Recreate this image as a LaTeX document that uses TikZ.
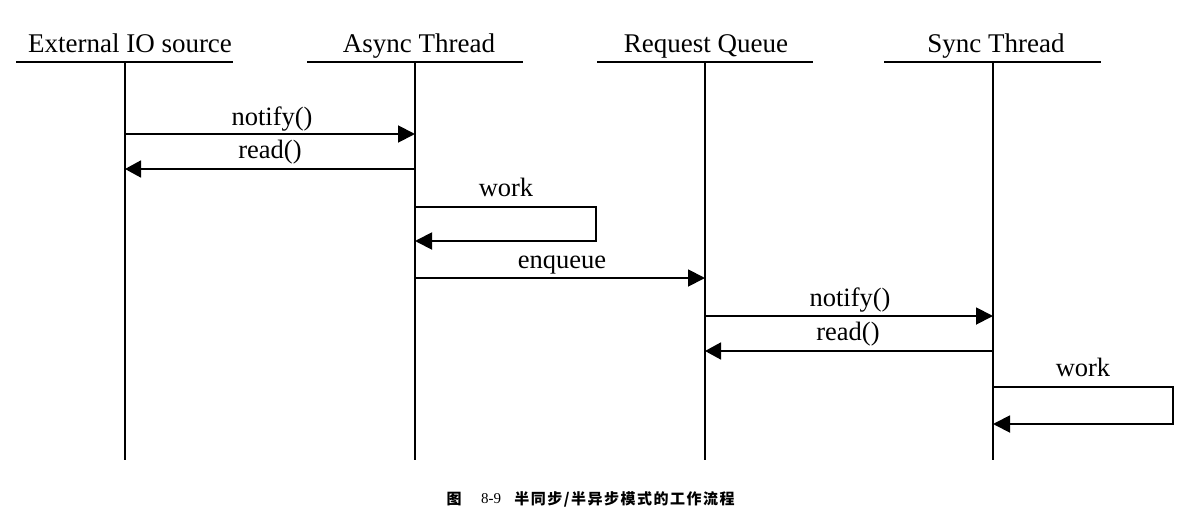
\documentclass[tikz,border=0pt]{standalone}
\usepackage{fontspec}
\setmainfont{Liberation Serif}
\newfontfamily\cjk{Noto Sans CJK SC}
\usetikzlibrary{arrows.meta}
\tikzset{
  hdr/.style={font=\fontsize{27}{30}\selectfont, anchor=base, inner sep=0pt},
  hline/.style={line width=2.6pt},
  life/.style={line width=1.8pt},
  msg/.style={line width=1.9pt, -{Triangle[length=17pt,width=17pt]}},
  ret/.style={line width=1.7pt, -{Triangle[length=16pt,width=17pt]}},
  lbl/.style={font=\fontsize{26.5}{30}\selectfont, anchor=base, inner sep=0pt},
  captxt/.style={font=\fontsize{15}{18}\selectfont, inner sep=0pt},
}
\begin{document}
\begin{tikzpicture}[x=1pt,y=-1pt]
\useasboundingbox (0,0) rectangle (1187,522);
% headers
\node[hdr] (hE) at (130,52) {External IO source};
\node[hdr] (hA) at (419,52) {Async Thread};
\node[hdr] (hR) at (706,52) {Request Queue};
\node[hdr] (hS) at (996,52) {Sync Thread};
\draw[hline] (16,62) coordinate (e0) -- (233,62) coordinate (e1);
\draw[hline] (307,62) coordinate (a0) -- (523,62) coordinate (a1);
\draw[hline] (597,62) coordinate (r0) -- (813,62) coordinate (r1);
\draw[hline] (884,62) coordinate (s0) -- (1101,62) coordinate (s1);
% lifelines
\coordinate (Et) at (125,62); \coordinate (Eb) at (125,460);
\coordinate (At) at (415,62); \coordinate (Ab) at (415,460);
\coordinate (Rt) at (705,62); \coordinate (Rb) at (705,460);
\coordinate (St) at (993,62); \coordinate (Sb) at (993,460);
\draw[life] (Et) -- (Eb);
\draw[life] (At) -- (Ab);
\draw[life] (Rt) -- (Rb);
\draw[life] (St) -- (Sb);
% message points
\coordinate (E1) at (125,134); \coordinate (A1) at (415,134);
\coordinate (E2) at (125,169); \coordinate (A2) at (415,169);
\coordinate (A3) at (415,207); \coordinate (W1) at (596,207);
\coordinate (W2) at (596,241); \coordinate (A4) at (415,241);
\coordinate (A5) at (415,278); \coordinate (R5) at (705,278);
\coordinate (R6) at (705,316); \coordinate (S6) at (993,316);
\coordinate (R7) at (705,351); \coordinate (S7) at (993,351);
\coordinate (S8) at (993,387); \coordinate (W3) at (1173,387);
\coordinate (W4) at (1173,424); \coordinate (S9) at (993,424);
% messages
\draw[msg] (E1) -- (A1);
\node[lbl] (l1) at (272,125) {notify()};
\draw[ret] (A2) -- (E2);
\node[lbl] (l2) at (270,158) {read()};
\draw[msg] (A3) -- (W1) -- (W2) -- (A4);
\node[lbl] (l3) at (506,196) {work};
\draw[msg] (A5) -- (R5);
\node[lbl] (l4) at (562,268) {enqueue};
\draw[msg] (R6) -- (S6);
\node[lbl] (l5) at (850,306) {notify()};
\draw[ret] (S7) -- (R7);
\node[lbl] (l6) at (848,340) {read()};
\draw[msg] (S8) -- (W3) -- (W4) -- (S9);
\node[lbl] (l7) at (1083,376) {work};
% caption
\node[captxt] (c1) at (454,499) {\cjk\bfseries 图};
\node[captxt] (c2) at (491,499) {8-9};
\node[captxt] (c3) at (624.5,499) {\cjk\bfseries\addfontfeature{LetterSpace=10}半同步/半异步模式的工作流程};
\end{tikzpicture}
\end{document}
